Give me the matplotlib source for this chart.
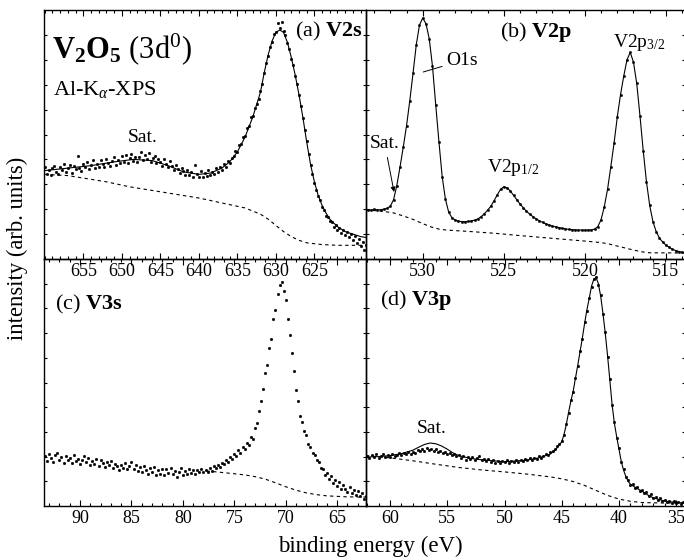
import numpy as np
import matplotlib
matplotlib.use("Agg")
import matplotlib.pyplot as plt
from matplotlib.ticker import FixedLocator, MultipleLocator, NullFormatter

plt.rcParams.update({
    "font.family": ["Liberation Serif", "DejaVu Serif"],
    "mathtext.fontset": "custom",
    "mathtext.rm": "Liberation Serif",
    "mathtext.it": "Liberation Serif:italic",
    "mathtext.bf": "Liberation Serif:bold",
})

# ---------------- (a) V 2s ----------------
v2s_start, v2s_step = 660.0, 0.25
v2s_counts = [
    36.8, 34.2, 35.9, 33.8, 36.5, 37.4, 35.0, 34.1, 36.9, 35.6,
    38.0, 35.1, 36.7, 37.9, 34.6, 37.2, 36.0, 41.5, 36.5, 35.4,
    38.2, 36.8, 38.9, 36.1, 37.7, 39.6, 36.4, 38.3, 37.0, 39.8,
    38.1, 36.9, 40.2, 38.4, 37.3, 39.5, 40.9, 37.8, 39.9, 38.6,
    41.2,
    39.0, 41.6, 38.7, 40.4, 42.0, 39.3, 41.1, 38.9, 40.8, 43.1,
    39.6, 41.9, 40.2, 42.4, 38.8, 40.7, 41.5, 38.4, 40.0, 39.1,
    37.2, 40.3, 38.0, 36.9, 39.2, 37.5, 35.8, 37.9, 36.1, 34.4,
    36.6, 35.2, 33.6, 35.8, 33.9, 34.9, 32.8, 37.6, 34.0, 33.1,
    35.2, 32.9, 34.6, 33.4, 35.7, 33.8, 35.1, 34.2, 36.4, 34.9,
    36.8, 35.9, 38.1, 37.0, 39.2, 38.5, 40.6, 41.3, 43.4, 42.8,
    45.6, 46.3, 48.9, 49.4, 52.8, 53.5, 56.9, 57.4, 60.8, 62.3,
    64.1, 67.5, 70.2, 74.6, 78.8, 81.5, 85.1, 87.2, 90.4, 91.3,
    94.6, 92.8, 95.2, 91.4, 89.8, 86.9, 84.2, 80.5, 77.9, 73.6,
    70.1, 65.8, 61.4, 56.7, 51.9, 47.3, 42.0, 37.8, 34.1, 30.6,
    27.9, 25.2, 23.6, 21.0, 19.8, 17.4, 16.9, 15.2, 14.7, 12.9,
    13.8, 11.6, 12.4, 10.5, 11.8, 9.6, 10.9, 8.7, 9.9, 7.8,
    9.1, 6.5, 8.0, 5.2, 6.9, 3.8, 5.5, 2.9,
]
v2s_fit_e = [660, 657, 654, 651, 648.5, 646, 644, 642, 640, 638.5, 637, 636,
             635, 634, 633, 632, 631.5, 631, 630.5, 630, 629.5, 629, 628.5,
             628, 627.5, 627, 626.5, 626, 625.5, 625, 624.5, 624, 623.5, 623,
             622, 621, 620, 619, 618]
v2s_fit = [35.5, 36.5, 37.5, 39.0, 40.0, 39.5, 37.5, 35.0, 34.0, 34.5, 36.5,
           39.0, 43.0, 49.0, 57.0, 67.0, 75.0, 82.0, 87.5, 91.0, 92.0, 91.0,
           87.0, 81.0, 74.0, 66.0, 57.0, 47.0, 38.0, 31.0, 25.5, 21.5, 18.5,
           16.0, 13.0, 11.0, 10.0, 9.0, 8.5]
v2s_bg_e = [660, 657, 655, 652, 649, 646, 643, 640, 637, 634, 632, 631, 630,
            629, 628, 627, 626, 624, 622, 618]
v2s_bg = [34.0, 33.5, 32.5, 31.0, 29.0, 27.5, 26.0, 24.5, 22.5, 20.5, 18.0,
          16.0, 13.5, 11.0, 9.0, 7.5, 6.5, 5.8, 5.5, 5.5]

# ---------------- (b) V 2p / O 1s ----------------
v2p_start, v2p_step = 533.4, 0.2
v2p_counts = [
    19.8, 19.6, 19.9, 19.7, 19.8, 20.0, 20.3, 21.2, 23.8, 29.5,
    37.0, 45.0, 53.5, 63.5, 74.5, 86.0, 94.0, 96.8, 94.5, 88.5,
    77.5, 62.0, 47.0, 33.0, 24.0, 18.8, 16.6, 15.6, 15.2, 15.0,
    15.0, 15.1, 15.3, 15.6, 16.1, 17.0, 18.2, 19.6, 21.2, 23.4,
    25.8, 28.0, 29.0, 28.6, 27.3, 25.6, 23.8, 22.1, 20.6, 19.2,
    18.0, 17.0, 16.1, 15.3, 14.7, 14.1, 13.6, 13.2, 12.9, 12.6,
    12.3, 12.1, 11.9, 11.8, 11.7, 11.6, 11.6, 11.6, 11.6, 11.7,
    12.0, 13.0, 15.8, 21.0, 28.0, 37.0, 46.5, 57.0, 66.0, 73.5,
    80.0, 83.0, 79.0, 70.5, 57.5, 43.5, 31.0, 21.5, 15.0, 11.0,
    8.4, 6.8, 5.6, 4.7, 3.9, 3.4, 3.0, 2.7, 2.5,
]
v2p_bg_e = [533.5, 532.5, 531.8, 531.2, 530.6, 530.0, 529.5, 529.0, 528.5,
            527.0, 525.5, 524.0, 522.0, 520.0, 519.0, 518.5, 518.0, 517.5,
            517.0, 516.5, 516.0, 513.8]
v2p_bg = [19.7, 19.2, 18.5, 17.3, 15.9, 14.2, 12.9, 12.0, 11.6, 11.0, 10.3,
          9.4, 8.3, 7.2, 6.6, 6.0, 5.2, 4.4, 3.6, 2.9, 2.5, 2.4]

# ---------------- (c) V 3s ----------------
v3s_start, v3s_step = 93.4, 0.2
v3s_counts = [
    20.1, 18.2, 21.0, 19.4, 17.9, 20.6, 21.4, 18.8, 19.9, 17.6,
    20.3, 18.5, 19.6, 17.3, 20.8, 18.1, 19.2, 16.9, 18.7, 20.4,
    17.8, 19.5, 16.6, 18.3, 17.1, 19.0, 16.2, 18.6, 17.4, 15.8,
    17.9, 16.5, 18.1, 15.4, 17.2, 16.0, 14.7, 16.8, 15.2, 17.6,
    14.9, 16.3, 18.0, 15.1, 16.7, 14.2, 15.9, 13.8, 16.1, 14.6,
    12.9, 15.3, 13.6, 15.8, 12.7, 14.4, 13.1, 15.0, 12.4, 14.8,
    13.3, 15.5, 12.8, 14.1, 11.9, 13.7, 15.2, 12.6, 14.3, 13.0,
    15.1, 13.5, 14.7, 12.9, 14.4, 13.8, 15.0, 13.9, 14.6, 13.7,
    15.4, 14.3, 16.1, 15.2, 16.8, 15.9, 17.5, 16.9, 18.6, 17.8,
    19.7, 18.9, 21.0, 20.2, 22.5, 21.4, 23.8, 22.9, 25.6, 24.8,
    28.1, 27.0, 31.5, 33.6, 38.4, 42.6, 47.5, 53.8, 57.2, 63.9,
    67.5, 75.8, 79.4, 85.7, 89.6, 90.8, 86.9, 83.5, 75.6, 69.4,
    61.8, 54.6, 47.1, 42.5, 36.4, 34.0, 30.2, 28.6, 25.1, 24.0,
    21.3, 20.8, 18.6, 17.9, 15.4, 14.9, 12.6, 13.4, 10.8, 12.1,
    9.5, 10.7, 8.2, 9.6, 6.9, 8.5, 7.0, 5.8, 7.6, 5.2,
    6.6, 4.6, 6.1, 3.9, 5.3, 2.8, 4.2,
]
v3s_bg_e = [77.7, 76, 74, 73, 72, 71, 70, 69, 68, 67, 66, 64, 62.2]
v3s_bg = [14.2, 13.5, 12.6, 11.9, 10.9, 9.4, 7.8, 6.4, 5.3, 4.6, 4.1, 3.7, 3.6]

# ---------------- (d) V 3p ----------------
v3p_start, v3p_step = 62.0, 0.2
v3p_counts = [
    20.2, 19.4, 20.6, 19.8, 20.9, 19.5, 20.4, 21.0, 19.7, 20.5,
    19.9, 21.1, 20.3, 20.8, 21.6, 20.6, 21.3, 20.9, 21.8, 21.2,
    22.0, 21.5, 22.6, 22.1, 23.0, 22.4, 23.3, 22.7, 23.1, 22.3,
    22.9, 21.8, 22.4, 21.5, 22.0, 21.0, 21.6, 20.6, 21.1, 20.2,
    20.8, 19.6, 20.3, 18.7, 19.9, 19.2, 19.7, 18.8, 19.4, 20.3,
    18.6, 19.1, 18.3, 19.0, 17.9, 18.7, 17.6, 18.4, 17.5, 18.2,
    17.7, 18.6, 17.4, 18.3, 17.8, 18.8, 17.9, 18.7, 18.2, 19.1,
    18.5, 19.3, 18.8, 19.6, 19.0, 20.1, 19.5, 20.4, 20.9, 20.6,
    21.7, 22.4, 22.9, 24.1, 25.0, 26.3, 28.8, 33.1, 37.6, 42.8,
    46.3, 52.0, 56.7, 62.8, 67.6, 74.3, 79.1, 84.4, 88.7, 92.1,
    92.8, 89.6, 85.3, 77.6, 70.4, 60.5, 51.3, 40.7, 33.9, 27.6,
    23.4, 17.7, 15.0, 11.6, 10.4, 8.5, 8.9, 7.2, 7.8, 6.1,
    6.6, 5.2, 5.5, 4.1, 4.7, 3.2, 3.8, 2.6, 3.1, 2.0,
    2.5, 1.7, 2.2, 1.3, 1.9, 1.1, 1.6, 0.9, 1.5, 1.0,
]
v3p_fit_e = [62.1, 61, 60, 59, 58, 57.5, 57, 56.5, 56, 55.5, 55, 54.5, 54,
             53, 52, 50, 48, 47, 46, 45.5, 45, 44.8, 44.6, 44.4, 44.2, 44.0,
             43.8, 43.6, 43.4, 43.2, 43.0, 42.8, 42.6, 42.4, 42.2, 42.0, 41.8,
             41.6, 41.4, 41.2, 41.0, 40.8, 40.6, 40.4, 40.2, 40.0, 39.8, 39.6,
             39.4, 39.2, 39.0, 38.6, 38.0, 37.5, 37.0, 36, 35, 34.2]
v3p_fit = [19.8, 20.0, 20.4, 21.2, 22.6, 23.8, 24.9, 25.5, 25.2, 24.3, 23.0,
           21.5, 20.4, 19.3, 18.7, 17.9, 18.6, 19.5, 21.0, 23.0, 26.0, 29.0,
           33.0, 38.0, 42.5, 46.5, 51.8, 57.0, 62.5, 68.0, 74.0, 79.5, 84.0,
           89.0, 91.8, 92.5, 90.0, 85.0, 78.0, 70.0, 61.0, 51.0, 41.0, 33.5,
           28.0, 23.0, 18.0, 14.5, 12.0, 10.0, 8.8, 7.6, 6.0, 4.5, 3.3, 2.0,
           1.4, 1.2]
v3p_bg_e = [62.1, 60, 58, 56, 54, 52, 50, 48, 46, 45, 44, 43, 42, 41, 40, 39,
            38, 36, 34.2]
v3p_bg = [20.4, 19.5, 18.3, 16.9, 15.6, 14.6, 13.8, 12.9, 11.8, 11.0, 9.9,
          8.3, 6.3, 4.3, 2.8, 1.9, 1.4, 1.2, 1.2]

# axis ranges and tick labels
xlim_a, ticks_a = (660.1, 618.3), [655, 650, 645, 640, 635, 630, 625]
xlim_b, ticks_b = (533.5, 513.8), [530, 525, 520, 515]
xlim_c, ticks_c = (93.5, 62.2), [90, 85, 80, 75, 70, 65]
xlim_d, ticks_d = (62.1, 34.2), [60, 55, 50, 45, 40, 35]
y_ticks = [10, 20, 30, 40, 50, 60, 70, 80, 90]


def energies(start, step, values):
    return start - step * np.arange(len(values))


W, H = 684, 560
fig = plt.figure(figsize=(W / 100, H / 100), dpi=100)
x0, xm, x1 = 44 / W, 366 / W, 1.002
y1, ym, y0 = 1 - 10 / H, 1 - 259 / H, 1 - 506 / H
ax_c = fig.add_axes([x0, y0, xm - x0, ym - y0])
ax_d = fig.add_axes([xm, y0, x1 - xm, ym - y0])
ax_a = fig.add_axes([x0, ym, xm - x0, y1 - ym])
ax_b = fig.add_axes([xm, ym, x1 - xm, y1 - ym])
for ax in (ax_c, ax_d):
    ax.patch.set_alpha(0)
for ax in (ax_a, ax_b):
    ax.set_zorder(3)
    ax.patch.set_alpha(0)

dot_kw = dict(ls="none", marker="o", ms=2.0, mfc="k", mec="k", mew=0.2)
line_kw = dict(color="k", lw=0.8)
dash_kw = dict(color="k", lw=0.8, ls=(0, (3.0, 3.0)))

# (a)
ax_a.plot(v2s_bg_e, v2s_bg, **dash_kw)
ax_a.plot(v2s_fit_e, v2s_fit, **line_kw)
ax_a.plot(energies(v2s_start, v2s_step, v2s_counts), v2s_counts, **dot_kw)

# (b)
e_b = energies(v2p_start, v2p_step, v2p_counts)
ax_b.plot(v2p_bg_e, v2p_bg, **dash_kw)
ax_b.plot(e_b, v2p_counts, **line_kw)
ax_b.plot(e_b, v2p_counts, ls="none", marker="o", ms=1.8, mfc="k", mec="k",
          mew=0.2)

# (c)
ax_c.plot(v3s_bg_e, v3s_bg, **dash_kw)
ax_c.plot(energies(v3s_start, v3s_step, v3s_counts), v3s_counts, **dot_kw)

# (d)
ax_d.plot(v3p_bg_e, v3p_bg, **dash_kw)
ax_d.plot(v3p_fit_e, v3p_fit, **line_kw)
ax_d.plot(energies(v3p_start, v3p_step, v3p_counts), v3p_counts, **dot_kw)

for ax, lim, ticks in ((ax_a, xlim_a, ticks_a), (ax_b, xlim_b, ticks_b),
                       (ax_c, xlim_c, ticks_c), (ax_d, xlim_d, ticks_d)):
    ax.set_xlim(*lim)
    ax.set_ylim(0, 100)
    ax.xaxis.set_major_locator(FixedLocator(ticks))
    ax.xaxis.set_minor_locator(MultipleLocator(1))
    ax.set_xticklabels([str(t) for t in ticks])
    ax.yaxis.set_major_locator(FixedLocator(y_ticks))
    ax.yaxis.set_major_formatter(NullFormatter())
    ax.tick_params(axis="x", which="both", direction="in", top=True,
                   labelsize=13, pad=3, width=0.8)
    ax.tick_params(axis="x", which="major", length=4.5)
    ax.tick_params(axis="x", which="minor", length=2.5)
    ax.tick_params(axis="y", which="major", direction="in", right=True,
                   length=2.5, width=0.8)
    for sp in ax.spines.values():
        sp.set_linewidth(1.0)

# panel captions
ax_a.text(0.025, 0.807, r"$\mathbf{V_2O_5}$ (3d$^0$)", transform=ax_a.transAxes,
          fontsize=22, va="baseline", ha="left")
ax_a.text(0.028, 0.659, r"Al-K$_\alpha$-XPS", transform=ax_a.transAxes,
          fontsize=16, va="baseline", ha="left")
ax_a.text(0.988, 0.892, r"(a) $\mathbf{V2s}$", transform=ax_a.transAxes,
          fontsize=16, va="baseline", ha="right")
ax_a.text(0.307, 0.47, "Sat.", transform=ax_a.transAxes, fontsize=14,
          va="baseline", ha="center")

ax_b.text(0.533, 0.892, r"(b) $\mathbf{V2p}$", transform=ax_b.transAxes,
          fontsize=16, va="baseline", ha="center")
ax_b.text(0.855, 0.851, r"V2p$_{\mathrm{3/2}}$", transform=ax_b.transAxes,
          fontsize=14, va="baseline", ha="center")
ax_b.text(0.46, 0.35, r"V2p$_{\mathrm{1/2}}$", transform=ax_b.transAxes,
          fontsize=14, va="baseline", ha="center")
ax_b.annotate("O1s", xy=(529.97, 75.1), xytext=(528.55, 77.9),
              fontsize=14, va="baseline", ha="left",
              arrowprops=dict(arrowstyle="-", lw=0.7, color="k",
                              shrinkA=1, shrinkB=0))
ax_b.annotate("Sat.", xy=(531.77, 26.9), xytext=(532.35, 44.6),
              fontsize=14, va="baseline", ha="center",
              arrowprops=dict(arrowstyle="-|>", lw=0.7, color="k",
                              mutation_scale=7, shrinkA=2, shrinkB=0))

ax_c.text(0.034, 0.794, r"(c) $\mathbf{V3s}$", transform=ax_c.transAxes,
          fontsize=16, va="baseline", ha="left")
ax_d.text(0.044, 0.814, r"(d) $\mathbf{V3p}$", transform=ax_d.transAxes,
          fontsize=16, va="baseline", ha="left")
ax_d.text(0.207, 0.296, "Sat.", transform=ax_d.transAxes, fontsize=14,
          va="baseline", ha="center")

fig.text(0.541, 0.0143, "binding energy (eV)", fontsize=16.5, ha="center",
         va="baseline")
fig.text(0.026, 0.557, "intensity (arb. units)", fontsize=16.3, ha="center",
         va="center", rotation=90)

fig.savefig("out.png", dpi=100)
